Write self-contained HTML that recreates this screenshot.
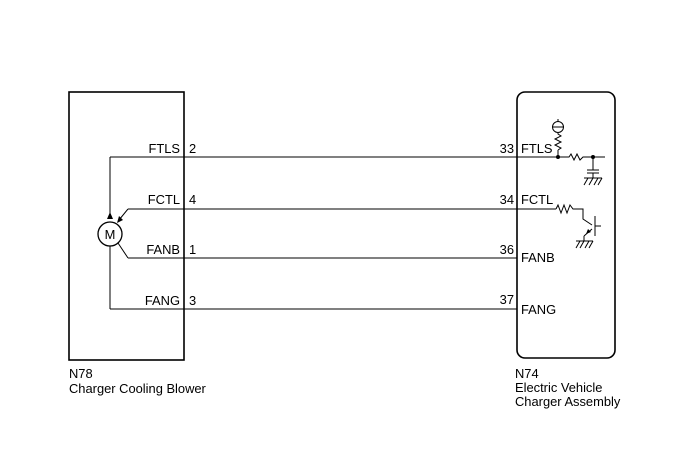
<!DOCTYPE html>
<html><head><style>body{margin:0;background:#fff}svg{display:block}text{font-family:"Liberation Sans",sans-serif;font-size:12.9px;fill:#000}</style></head><body>
<svg width="688" height="463" viewBox="0 0 688 463">
<g fill="none" stroke="#000" stroke-width="1">
<rect x="69" y="92" width="115" height="268" stroke-width="1.6"/>
<rect x="517" y="92" width="98" height="266" rx="8" stroke-width="1.6"/>
<line x1="110" y1="157" x2="558" y2="157"/>
<line x1="128" y1="209" x2="556" y2="209"/>
<line x1="128" y1="258" x2="517" y2="258"/>
<line x1="110" y1="309" x2="517" y2="309"/>
<line x1="110" y1="157" x2="110" y2="218"/>
<line x1="128" y1="209" x2="119" y2="220"/>
<line x1="118" y1="243" x2="128" y2="258"/>
<line x1="110" y1="246" x2="110" y2="309"/>
<circle cx="110" cy="234" r="12" stroke-width="1.3"/>
<line x1="558" y1="157" x2="558" y2="150"/>
<polyline points="558,150 561,148 555,145 561,142 555,139 561,136 558,134 558,133"/>
<circle cx="558" cy="127" r="5.5"/>
<line x1="552" y1="127" x2="564" y2="127"/>
<line x1="558" y1="119" x2="558" y2="121"/>
<polyline points="558,157 569,157 571,154 574,160 577,154 580,160 583,157 605,157"/>
<line x1="593" y1="157" x2="593" y2="170"/>
<line x1="587" y1="170" x2="599" y2="170"/>
<line x1="587" y1="173" x2="599" y2="173"/>
<line x1="593" y1="173" x2="593" y2="178"/>
<line x1="584" y1="178" x2="602" y2="178"/>
<line x1="588" y1="178" x2="584" y2="185"/><line x1="593" y1="178" x2="589" y2="185"/><line x1="598" y1="178" x2="594" y2="185"/><line x1="602" y1="178" x2="598" y2="185"/>
<polyline points="556,209 558,205 561,213 564,205 567,213 570,205 573,209 583,209 583,219 592,225"/>
<line x1="595" y1="216" x2="595" y2="236"/>
<line x1="595" y1="226" x2="601" y2="226"/>
<line x1="592" y1="229" x2="584" y2="236"/>
<line x1="584" y1="236" x2="584" y2="241"/>
<line x1="576" y1="241" x2="593" y2="241"/>
<line x1="580" y1="241" x2="576" y2="248"/><line x1="584" y1="241" x2="580" y2="248"/><line x1="589" y1="241" x2="585" y2="248"/><line x1="593" y1="241" x2="589" y2="248"/>
</g>
<polygon points="110,212 107,219 113,219" fill="#000"/>
<polygon points="117,223 119,216 123,220" fill="#000"/>
<polygon points="586,234 588,229 591,232" fill="#000"/>
<circle cx="558" cy="157" r="2" fill="#000"/>
<circle cx="593" cy="157" r="2" fill="#000"/>
<text x="110" y="239" text-anchor="middle">M</text>
<text x="180" y="153" text-anchor="end">FTLS</text><text x="189" y="153">2</text>
<text x="180" y="204" text-anchor="end">FCTL</text><text x="189" y="204">4</text>
<text x="180" y="254" text-anchor="end">FANB</text><text x="189" y="254">1</text>
<text x="180" y="305" text-anchor="end">FANG</text><text x="189" y="305">3</text>
<text x="514" y="153" text-anchor="end">33</text><text x="521" y="153">FTLS</text>
<text x="514" y="204" text-anchor="end">34</text><text x="521" y="204">FCTL</text>
<text x="514" y="254" text-anchor="end">36</text><text x="521" y="262">FANB</text>
<text x="514" y="304" text-anchor="end">37</text><text x="521" y="314">FANG</text>
<text x="69" y="378">N78</text><text x="69" y="393">Charger Cooling Blower</text>
<text x="515" y="378">N74</text><text x="515" y="392">Electric Vehicle</text><text x="515" y="406">Charger Assembly</text>
</svg></body></html>
